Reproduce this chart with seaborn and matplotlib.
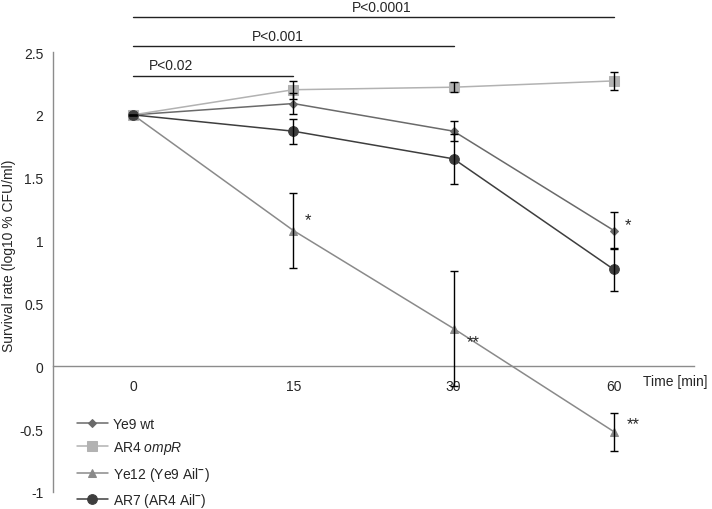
import numpy as np
import pandas as pd
import matplotlib
matplotlib.use("Agg")
import matplotlib.pyplot as plt
import seaborn as sns

# --- data ---
times = ["0", "15", "30", "60"]
strains = ["Ye9 wt", "AR4 ompR", "Ye12 (Ye9 Ail-)", "AR7 (AR4 Ail-)"]
labels = ["Ye9 wt", "AR4 $\\it{ompR}$", "Ye12 (Ye9 Ail$^{\\mathbf{-}}$)", "AR7 (AR4 Ail$^{\\mathbf{-}}$)"]
ye9_wt = [2.0, 2.09, 1.87, 1.08]
ar4_ompr = [2.0, 2.20, 2.22, 2.27]
ye12 = [2.0, 1.08, 0.30, -0.52]
ar7 = [2.0, 1.87, 1.65, 0.77]
ye9_wt_err = [0.0, 0.08, 0.08, 0.15]
ar4_ompr_err = [0.0, 0.07, 0.04, 0.07]
ye12_err = [0.0, 0.30, 0.46, 0.15]
ar7_err = [0.0, 0.10, 0.20, 0.17]

p_labels = ["P<0.02", "P<0.001", "P<0.0001"]
p_ends = [1, 2, 3]
star_text = ["*", "**", "*", "**"]
star_x = [1.07, 2.08, 3.07, 3.08]
star_y = [1.17, 0.20, 1.13, -0.46]

values = [ye9_wt, ar4_ompr, ye12, ar7]
errors = [ye9_wt_err, ar4_ompr_err, ye12_err, ar7_err]
colors = ["#6a6a6a", "#b2b2b2", "#8a8a8a", "#3e3e3e"]
markers = ["D", "s", "^", "o"]
msizes = [4.5, 6.5, 6, 7]

df = pd.DataFrame({
    "pos": np.tile(np.arange(len(times)), len(strains)),
    "value": np.concatenate(values),
    "strain": np.repeat(strains, len(times)),
})

sns.set_style("white")
plt.rcParams["font.family"] = ["Liberation Sans", "DejaVu Sans"]
plt.rcParams["mathtext.fontset"] = "custom"
plt.rcParams["mathtext.rm"] = "Liberation Sans"
plt.rcParams["mathtext.it"] = "Liberation Sans:italic"
plt.rcParams["mathtext.bf"] = "Liberation Sans:bold"

FS = 10

fig = plt.figure(figsize=(7.12, 5.10), dpi=100)
ax = fig.add_axes([53 / 712, 17 / 510, 641 / 712, 440 / 510])

handles = []
for name, lab, col, mk, ms in zip(strains, labels, colors, markers, msizes):
    sub = df[df["strain"] == name]
    sns.lineplot(data=sub, x="pos", y="value", color=col, marker=mk, markersize=ms,
                 markeredgecolor=col, lw=1.1, ax=ax, label=lab, legend=False)
    handles.append(ax.lines[-1])

for vals, errs in zip(values, errors):
    ax.errorbar(np.arange(len(times)), vals, yerr=errs, fmt="none", ecolor="black",
                elinewidth=1.0, capsize=3, capthick=1.0, zorder=3)

# significance bars above the plot
for lab, end, yl, yt, tx in zip(p_labels, p_ends, [2.31, 2.55, 2.78], [2.40, 2.63, 2.86], [0.1, 0.9, 1.55]):
    ax.plot([0, end], [yl, yl], color="#222222", lw=1, clip_on=False)
    ax.text(tx, yt, lab, ha="left" if end == 1 else "center", va="center", fontsize=FS, clip_on=False)

for t, x, y in zip(star_text, star_x, star_y):
    ax.text(x, y, t, ha="left", va="center", fontsize=12)

ax.set_xlim(-0.5, 3.5)
ax.set_ylim(-1, 2.5)
ax.set_yticks(np.arange(-1, 2.51, 0.5))
ax.set_yticklabels(["-1", "-0.5", "0", "0.5", "1", "1.5", "2", "2.5"])
ax.set_xticks(range(len(times)))
ax.set_xticklabels(times)
ax.spines["top"].set_visible(False)
ax.spines["right"].set_visible(False)
ax.spines["bottom"].set_position(("data", 0))
for s in ["left", "bottom"]:
    ax.spines[s].set_color("#8c8c8c")
    ax.spines[s].set_linewidth(1)
ax.tick_params(axis="y", direction="out", length=4, color="#8c8c8c", labelsize=FS, pad=3)
ax.tick_params(axis="x", direction="out", length=3, color="#8c8c8c", labelsize=FS, pad=6)
ax.set_xlabel("")
ax.set_ylabel("Survival rate (log10 % CFU/ml)", fontsize=FS)
ax.yaxis.set_label_coords(-0.057, 0.54)
ax.text(3.18, -0.065, "Time [min]", ha="left", va="top", fontsize=FS, clip_on=False)

fig.legend(handles, labels, loc="upper left", bbox_to_anchor=(77 / 712, 1 - 418 / 510),
           frameon=False, fontsize=FS, handlelength=2.2, labelspacing=0.6,
           borderpad=0, borderaxespad=0, handletextpad=0.4)

fig.savefig("out.png", dpi=100)
